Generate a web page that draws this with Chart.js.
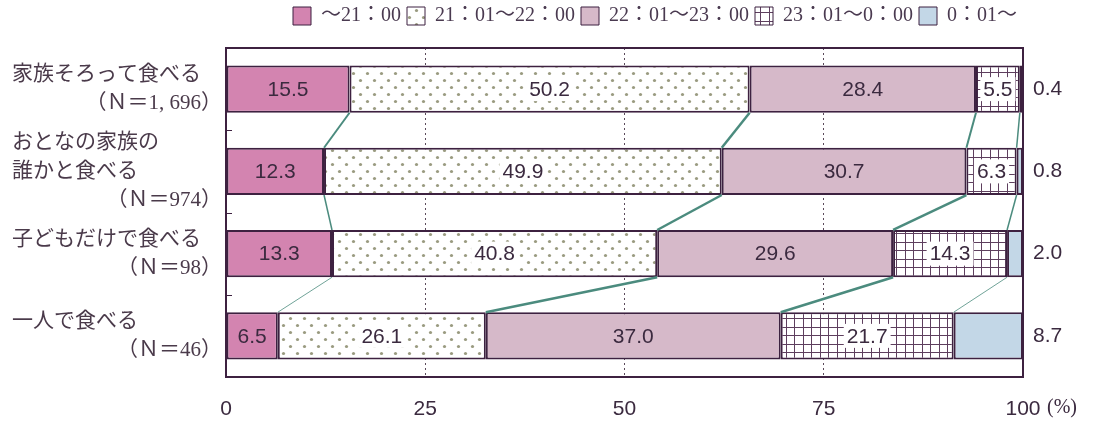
<!DOCTYPE html>
<html lang="ja">
<head>
<meta charset="utf-8">
<title>夕食の時刻</title>
<script src="https://cdn.jsdelivr.net/npm/chart.js@4.4.1/dist/chart.umd.min.js"></script>
<style>
  html, body { margin: 0; padding: 0; background: #fff; }
  canvas { display: block; }
</style>
</head>
<body>
<canvas id="chart" width="1093" height="424"></canvas>
<script>
// row captions (first lines) and sample sizes (last line)
const groups = [
  ['家族そろって食べる'],
  ['おとなの家族の', '誰かと食べる'],
  ['子どもだけで食べる'],
  ['一人で食べる']
];
const sampleSizes = ['（Ｎ＝1, 696）', '（Ｎ＝974）', '（Ｎ＝98）', '（Ｎ＝46）'];

const timeBands = ['～21：00', '21：01～22：00', '22：01～23：00', '23：01～0：00', '0：01～'];

// percentages per row, one array per time band
const upTo2100 = [15.5, 12.3, 13.3, 6.5];
const from2101 = [50.2, 49.9, 40.8, 26.1];
const from2201 = [28.4, 30.7, 29.6, 37.0];
const from2301 = [5.5, 6.3, 14.3, 21.7];
const after0001 = [0.4, 0.8, 2.0, 8.7];

const xTicks = [0, 25, 50, 75, 100];

// line widths of the connectors between neighbouring bars
const connectorWidths = [
  [2, 2.5, 2, 1.5],
  [1.5, 2.5, 2.5, 1.5],
  [0.8, 2.5, 2.5, 0.8]
];

const INK = '#3d2140';
const TEXT = '#3b2a3f';
const TEAL = '#4b8b7e';

const canvas = document.getElementById('chart');
const mainCtx = canvas.getContext('2d');

function dotPattern() {
  const c = document.createElement('canvas');
  c.width = 14; c.height = 14;
  const g = c.getContext('2d');
  g.fillStyle = '#fff';
  g.fillRect(0, 0, 14, 14);
  g.fillStyle = '#9a9b80';
  [[3.5, 3.5], [10.5, 10.5]].forEach(([x, y]) => {
    g.beginPath();
    g.arc(x, y, 1.6, 0, Math.PI * 2);
    g.fill();
  });
  return mainCtx.createPattern(c, 'repeat');
}

function gridPattern() {
  const c = document.createElement('canvas');
  c.width = 17; c.height = 17;
  const g = c.getContext('2d');
  g.fillStyle = '#fff';
  g.fillRect(0, 0, 17, 17);
  g.strokeStyle = '#5e3f5e';
  g.lineWidth = 1;
  g.beginPath();
  [4.5, 12.5].forEach(p => {
    g.moveTo(p, 0); g.lineTo(p, 17);
    g.moveTo(0, p); g.lineTo(17, p);
  });
  g.stroke();
  return mainCtx.createPattern(c, 'repeat');
}

const seriesValues = [upTo2100, from2101, from2201, from2301, after0001];
const fills = ['#d384b0', dotPattern(), '#d6b9c9', gridPattern(), '#c3d7e7'];
const boxedLabels = [false, true, false, true, false];

// a little extra room under the legend
const legendGap = {
  id: 'legendGap',
  beforeInit(chart) {
    const fit = chart.legend.fit;
    chart.legend.fit = function () {
      fit.bind(chart.legend)();
      this.height += 12;
    };
  }
};

// outer frame plus the short marks between rows
const frame = {
  id: 'frame',
  afterDatasetsDraw(chart) {
    const { ctx, chartArea: a, scales: { y } } = chart;
    ctx.save();
    ctx.strokeStyle = INK;
    ctx.lineWidth = 2;
    ctx.strokeRect(a.left, a.top, a.right - a.left, a.bottom - a.top);
    ctx.lineWidth = 1;
    ctx.beginPath();
    for (let i = 0; i < groups.length - 1; i++) {
      const yy = Math.round((y.getPixelForValue(i) + y.getPixelForValue(i + 1)) / 2) + 0.5;
      ctx.moveTo(a.left, yy);
      ctx.lineTo(a.left + 6, yy);
    }
    ctx.stroke();
    ctx.restore();
  }
};

// lines joining each band boundary from one bar to the next
const connectors = {
  id: 'connectors',
  afterDatasetsDraw(chart) {
    const { ctx } = chart;
    ctx.save();
    ctx.strokeStyle = TEAL;
    for (let row = 0; row < groups.length - 1; row++) {
      for (let k = 0; k < seriesValues.length - 1; k++) {
        const upper = chart.getDatasetMeta(k).data[row].getProps(['x', 'y', 'height'], true);
        const lower = chart.getDatasetMeta(k).data[row + 1].getProps(['x', 'y', 'height'], true);
        ctx.lineWidth = connectorWidths[row][k];
        ctx.beginPath();
        ctx.moveTo(upper.x, upper.y + upper.height / 2);
        ctx.lineTo(lower.x, lower.y - lower.height / 2);
        ctx.stroke();
      }
    }
    ctx.restore();
  }
};

// value labels inside the bars, last band outside on the right
const valueLabels = {
  id: 'valueLabels',
  afterDraw(chart) {
    const { ctx, chartArea: a } = chart;
    ctx.save();
    ctx.font = '21px "Liberation Sans", Arial, sans-serif';
    ctx.textBaseline = 'middle';
    seriesValues.forEach((values, k) => {
      const meta = chart.getDatasetMeta(k);
      values.forEach((v, row) => {
        const el = meta.data[row].getProps(['x', 'y', 'base'], true);
        const text = v.toFixed(1);
        if (k === seriesValues.length - 1) {
          ctx.textAlign = 'left';
          ctx.fillStyle = TEXT;
          ctx.fillText(text, a.right + 10, el.y);
          return;
        }
        const cx = (el.x + el.base) / 2;
        if (boxedLabels[k]) {
          const w = ctx.measureText(text).width + 6;
          ctx.fillStyle = '#fff';
          ctx.fillRect(cx - w / 2, el.y - 12, w, 24);
        }
        ctx.textAlign = 'center';
        ctx.fillStyle = TEXT;
        ctx.fillText(text, cx, el.y + 1);
      });
    });
    ctx.restore();
  }
};

// row captions on the left and the unit after the last tick
const captions = {
  id: 'captions',
  afterDraw(chart) {
    const { ctx, chartArea: a, scales: { x, y } } = chart;
    const lineHeight = 29;
    ctx.save();
    ctx.font = '21px "Liberation Serif", "Noto Sans CJK JP", serif';
    ctx.fillStyle = '#4a3a4a';
    ctx.textBaseline = 'middle';
    groups.forEach((lines, i) => {
      const all = lines.concat(sampleSizes[i]);
      const top = y.getPixelForValue(i) - (all.length - 1) * lineHeight / 2;
      all.forEach((line, j) => {
        const isSize = j === all.length - 1;
        ctx.textAlign = isSize ? 'right' : 'left';
        ctx.fillText(line, isSize ? 222 : 12, top + j * lineHeight);
      });
    });
    ctx.font = '20px "Liberation Serif", serif';
    ctx.textAlign = 'left';
    ctx.fillStyle = TEXT;
    ctx.fillText('(%)', x.getPixelForValue(100) + 24, a.bottom + 31);
    ctx.restore();
  }
};

new Chart(canvas, {
  type: 'bar',
  data: {
    labels: groups.map(g => g.join('')),
    datasets: seriesValues.map((values, k) => ({
      label: timeBands[k],
      data: values,
      backgroundColor: fills[k],
      borderColor: INK,
      borderWidth: 2,
      borderSkipped: false,
      barPercentage: 0.575,
      categoryPercentage: 1
    }))
  },
  options: {
    indexAxis: 'y',
    responsive: false,
    devicePixelRatio: 1,
    animation: false,
    layout: { padding: { left: 226, right: 70, top: 0, bottom: 0 } },
    scales: {
      x: {
        stacked: true,
        min: 0,
        max: 100,
        afterBuildTicks: axis => { axis.ticks = xTicks.map(v => ({ value: v })); },
        afterFit: axis => { axis.height = 47; },
        ticks: {
          padding: 20,
          color: TEXT,
          font: { family: '"Liberation Sans", Arial, sans-serif', size: 21 }
        },
        grid: {
          drawTicks: false,
          lineWidth: 1,
          color: c => (c.tick && c.tick.value > 0 && c.tick.value < 100) ? '#5a4a5a' : 'rgba(0,0,0,0)'
        },
        border: { display: false, dash: [2, 3] }
      },
      y: {
        stacked: true,
        display: false
      }
    },
    plugins: {
      legend: {
        position: 'top',
        align: 'end',
        labels: {
          boxWidth: 18,
          boxHeight: 18,
          padding: 6,
          color: '#4a3a50',
          font: { family: '"Liberation Serif", "Noto Sans CJK JP", serif', size: 20 },
          generateLabels: chart =>
            Chart.defaults.plugins.legend.labels.generateLabels(chart).map(l => ({ ...l, lineWidth: 1 }))
        }
      },
      tooltip: { enabled: false }
    }
  },
  plugins: [legendGap, frame, connectors, valueLabels, captions]
});
</script>
</body>
</html>
